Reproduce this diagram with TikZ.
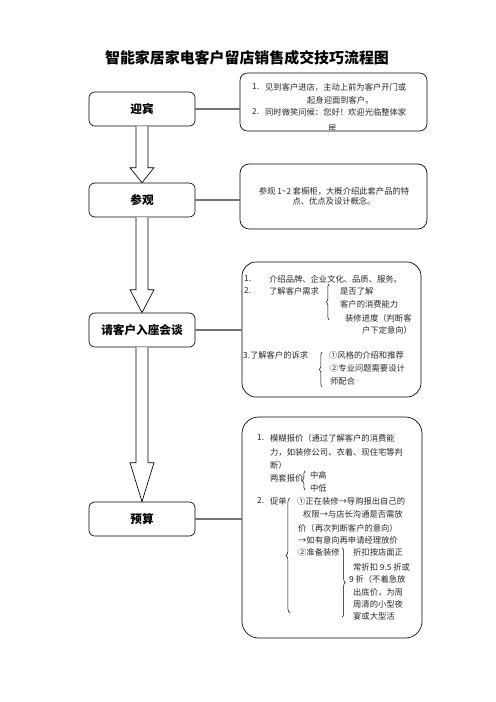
\documentclass[tikz,border=0pt]{standalone}
\usepackage{fontspec}
\newfontfamily\cjk{Noto Sans CJK SC}
\usetikzlibrary{positioning,calc,decorations.pathreplacing}
\newcommand{\pix}{0.04234cm}
\tikzset{
    stage/.style={
        draw,
        rounded corners=7pt,
        line width=0.8pt,
        fill=white,
        minimum width=106*\pix,
        minimum height=34*\pix,
        font=\cjk\bfseries\fontsize{14}{16}\selectfont
    },
    info/.style={
        draw,
        line width=0.8pt,
        inner sep=0pt
    },
    txt/.style={
        anchor=west,
        inner sep=0pt,
        text=black!85,
        font=\cjk\fontsize{10}{12}\selectfont
    },
    link/.style={draw=black!55, line width=1.6pt},
    blockarrow/.style={draw, line width=0.8pt, fill=white, line join=miter},
    brc/.style={decorate, decoration={brace, amplitude=3pt}, line width=0.6pt}
}
% hollow block arrow between two stages
\newcommand{\hollowarrow}[3]{%
    \draw[blockarrow] ($(#1.south)+(-6,0)$) -- ($(#2.north)+(-6,-#3)$)
        -- ($(#2.north)+(-12,-#3)$) -- (#2.north) -- ($(#2.north)+(12,-#3)$)
        -- ($(#2.north)+(6,-#3)$) -- ($(#1.south)+(6,0)$);
}
\begin{document}
\begin{tikzpicture}[x=\pix, y=-\pix]
    \useasboundingbox (0,0) rectangle (496,702);
    % Title
    \node[font=\cjk\bfseries\fontsize{18}{20}\selectfont] (title) at (247,58) {智能家居家电客户留店销售成交技巧流程图};

    % Stages
    \node[stage] (yingbin) at (142,109) {迎宾};
    \node[stage] (canguan) at (142,200) {参观};
    \node[stage] (qingzuo) at (142,330) {请客户入座会谈};
    \node[stage] (yusuan) at (142,519) {预算};

    % Detail boxes
    \node[info, rounded corners=9pt, minimum width=187*\pix, minimum height=58*\pix] (info1) at (333.5,102) {};
    \node[info, rounded corners=11pt, minimum width=187*\pix, minimum height=65*\pix] (info2) at (333.5,196.5) {};
    \node[info, rounded corners=17pt, minimum width=179*\pix, minimum height=135*\pix] (info3) at (331.5,329.5) {};
    \node[info, rounded corners=20pt, minimum width=180*\pix, minimum height=221*\pix] (info4) at (332,527.5) {};

    % Links
    \draw[link] (yingbin.east) -- (yingbin.east -| info1.west);
    \draw[link] (canguan.east) -- (canguan.east -| info2.west);
    \draw[link] (qingzuo.east) -- (qingzuo.east -| info3.west);
    \draw[link] (yusuan.east) -- (yusuan.east -| info4.west);

    % Arrows
    \hollowarrow{yingbin}{canguan}{15}
    \hollowarrow{canguan}{qingzuo}{23}
    \hollowarrow{qingzuo}{yusuan}{39}

    % Box 1
    \begin{scope}
        \clip (240,73) rectangle (427,129.5);
        \node[txt] (a1) at (252,87) {1.};
        \node[txt] (a2) at (265,87) {见到客户进店，主动上前为客户开门或};
        \node[txt] (a3) at (307,100) {起身迎面到客户。};
        \node[txt] (a4) at (252,112) {2.};
        \node[txt] (a5) at (265,112) {同时微笑问候：您好！欢迎光临整体家};
        \node[txt] (a6) at (328,129) {居};
    \end{scope}

    % Box 2
    \node[txt, anchor=center, align=center] (b1) at (334,196.5) {参观 1\textasciitilde{}2 套橱柜，大概介绍此套产品的特\\点、优点及设计概念。};

    % Box 3
    \node[txt] (c1) at (244,279) {1.};
    \node[txt] (c2) at (269,279) {介绍品牌、企业文化、品质、服务。};
    \node[txt] (c3) at (244,291) {2.};
    \node[txt] (c4) at (269,291) {了解客户需求};
    \draw[brc] (329,320) -- (329,284);
    \node[txt] (c5) at (340,291) {是否了解};
    \node[txt] (c6) at (340,304) {客户的消费能力};
    \node[txt] (c7) at (345,318) {装修进度（判断客};
    \node[txt] (c8) at (362,330) {户下定意向）};
    \node[txt] (c9) at (243,355) {3.了解客户的诉求};
    \draw[brc] (322,387) -- (322,352);
    \node[txt] (c10) at (329,355) {①风格的介绍和推荐};
    \node[txt] (c11) at (330,368) {②专业问题需要设计};
    \node[txt] (c12) at (330,381) {师配合};

    % Box 4
    \node[txt] (d1) at (257,438) {1.};
    \node[txt] (d2) at (270,438) {模糊报价（通过了解客户的消费能};
    \node[txt] (d3) at (270,452) {力，如装修公司、衣着、现住宅等判};
    \node[txt] (d4) at (270,465) {断）};
    \node[txt] (d5) at (270,478) {两套报价};
    \draw[brc] (305,490) -- (305,471);
    \node[txt] (d6) at (310,475) {中高};
    \node[txt] (d7) at (310,488) {中低};
    \node[txt] (d8) at (257,501) {2.};
    \node[txt] (d9) at (270,501) {促单};
    \draw[brc, decoration={amplitude=5pt}] (290,613) -- (290,498);
    \node[txt] (d10) at (297,501) {①正在装修→导购报出自己的};
    \node[txt] (d11) at (303,514) {权限→与店长沟通是否需放};
    \node[txt] (d12) at (298,528) {价（再次判断客户的意向）};
    \node[txt] (d13) at (298,540) {→如有意向再申请经理放价};
    \node[txt] (d14) at (298,552) {②准备装修};
    \draw[brc, decoration={amplitude=4pt}] (342,548) -- (342,617);
    \node[txt] (d15) at (353,552) {折扣按店面正};
    \node[txt] (d16) at (353,567) {常折扣 9.5 折或};
    \node[txt] (d17) at (349,579) {9 折（不着急放};
    \node[txt] (d18) at (353,592) {出底价，为周};
    \node[txt] (d19) at (353,604) {周清的小型夜};
    \node[txt] (d20) at (353,616) {宴或大型活};
\end{tikzpicture}
\end{document}
